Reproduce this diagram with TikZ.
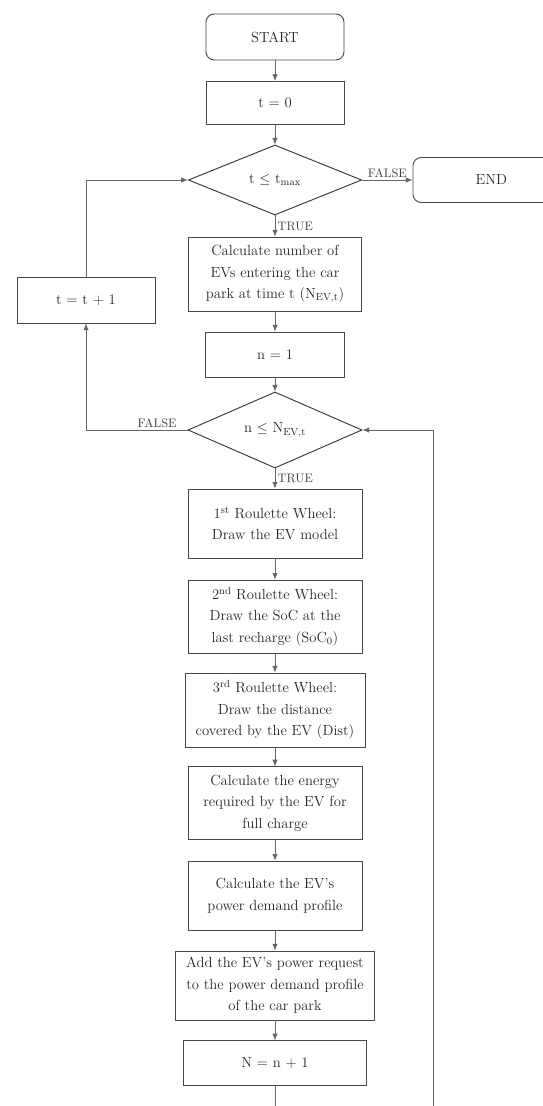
\documentclass[tikz,border=0pt]{standalone}
\usepackage{amsmath, amssymb}
\usepackage{tikz}
\usetikzlibrary{arrows.meta, positioning, shapes.geometric}

\begin{document}
\begin{tikzpicture}[
  font=\fontsize{12.5}{18.5}\selectfont,
  bloc/.style={draw=black!72, thick, minimum width=5.22cm, minimum height=2.1cm, align=center, text=black!85},
  term/.style={bloc, rounded corners=7pt, minimum width=4.14cm, minimum height=1.38cm},
  test/.style={draw=black!78, thick, diamond, aspect=1, inner sep=0pt, minimum width=5.2cm, minimum height=2.1cm, text=black!85},
  fleche/.style={-{Latex[length=2mm, width=1.6mm]}, black!60, semithick},
  etiq/.style={font=\fontsize{10.5}{12}\selectfont, text=black!75, inner sep=2pt}
]
  \useasboundingbox (0,0) rectangle (16.29,-33.18);

  % main column
  \node[term] (debut) at (8.25,-1.11) {START};
  \node[bloc, minimum width=4.14cm, minimum height=1.29cm] (t0) at (8.25,-3.09) {t = 0};
  \node[test] (testt) at (8.25,-5.4) {t $\leq$ t\textsubscript{max}};
  \node[term, minimum width=4.7cm, minimum height=1.35cm] (fin) at (14.74,-5.4) {END};
  \node[bloc, minimum width=5.19cm, minimum height=2.22cm] (nbve) at (8.25,-8.22) {Calculate number of\\ EVs entering the car\\ park at time t (N\textsubscript{EV,t})};
  \node[bloc, minimum width=4.14cm, minimum height=1.38cm] (incrt) at (2.58,-9.0) {t = t + 1};
  \node[bloc, minimum width=4.17cm, minimum height=1.35cm] (n1) at (8.25,-10.635) {n = 1};
  \node[test, minimum width=5.22cm, minimum height=2.04cm] (testn) at (8.25,-12.9) {n $\leq$ N\textsubscript{EV,t}};
  \node[bloc, minimum height=2.07cm] (roue1) at (8.25,-15.705) {1\textsuperscript{st} Roulette Wheel:\\ Draw the EV model};
  \node[bloc, minimum height=2.19cm] (roue2) at (8.25,-18.5) {2\textsuperscript{nd} Roulette Wheel:\\ Draw the SoC at the\\ last recharge (SoC\textsubscript{0})};
  \node[bloc, minimum width=5.4cm, minimum height=2.22cm] (roue3) at (8.25,-21.3) {3\textsuperscript{rd} Roulette Wheel:\\ Draw the distance\\ covered by the EV (Dist)};
  \node[bloc, minimum height=2.19cm] (energie) at (8.25,-24.1) {Calculate the energy\\ required by the EV for\\ full charge};
  \node[bloc, minimum height=2.07cm] (profil) at (8.25,-26.87) {Calculate the EV's\\ power demand profile};
  \node[bloc, minimum width=5.97cm, minimum height=2.07cm] (ajout) at (8.25,-29.565) {Add the EV's power request\\ to the power demand profile\\ of the car park};
  \node[bloc, minimum width=5.49cm, minimum height=1.35cm] (nplus) at (8.25,-31.9) {N = n + 1};
  \coordinate (retour) at (12.99,-33.6);

  % connectors
  \draw[fleche] (debut) -- (t0);
  \draw[fleche] (t0) -- (testt);
  \draw[fleche] (testt) -- node[above, etiq] {FALSE} (fin);
  \draw[fleche] (testt) -- node[right, etiq] {TRUE} (nbve);
  \draw[fleche] (nbve) -- (n1);
  \draw[fleche] (n1) -- (testn);
  \draw[fleche] (testn) -- node[right, etiq] {TRUE} (roue1);
  \draw[fleche] (testn.west) -| node[above, etiq, pos=0.15] {FALSE} (incrt);
  \draw[fleche] (incrt) |- (testt.west);
  \draw[fleche] (roue1) -- (roue2);
  \draw[fleche] (roue2) -- (roue3);
  \draw[fleche] (roue3) -- (energie);
  \draw[fleche] (energie) -- (profil);
  \draw[fleche] (profil) -- (ajout);
  \draw[fleche] (ajout) -- (nplus);
  \draw[fleche] (nplus.south) |- (retour) |- (testn.east);
\end{tikzpicture}
\end{document}
